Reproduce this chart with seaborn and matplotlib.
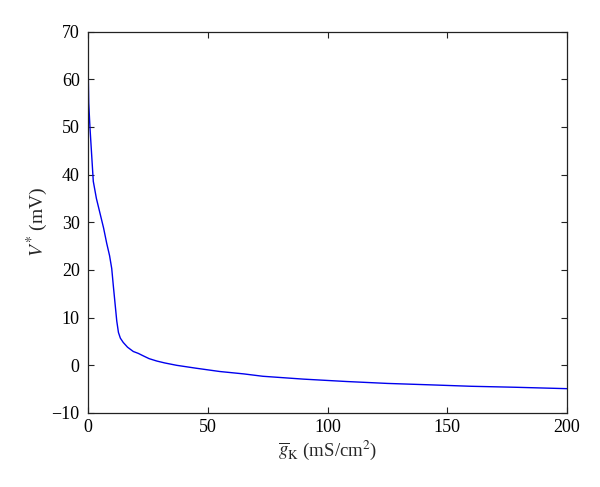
import numpy as np
import pandas as pd
import matplotlib
matplotlib.use("Agg")
import matplotlib.pyplot as plt
import seaborn as sns

# Values.
g_k = [0, 0.3, 0.8, 2.2, 3.5, 5.0, 6.5, 7.8, 9.0, 9.9, 10.6, 11.3, 12.0, 12.7,
       13.5, 14.7, 16.5, 18.9, 21, 23, 25.5, 28.7, 32, 37,
       45, 55, 65, 73, 90, 108, 125, 143, 160, 178, 200]
v_star = [64, 55, 50, 38.6, 35.0, 31.9, 28.8, 25.6, 23.0, 20.3, 16.5, 12.9, 9.3, 6.9,
          5.7, 4.8, 3.8, 2.9, 2.5, 2.0, 1.4, 0.9, 0.5, 0.0,
          -0.6, -1.3, -1.8, -2.3, -2.9, -3.4, -3.8, -4.1, -4.4, -4.6, -4.9]

x_ticks = [0, 50, 100, 150, 200]
y_ticks = [-10, 0, 10, 20, 30, 40, 50, 60, 70]

sns.set_style("ticks")
plt.rcParams['font.family'] = ['Liberation Serif', 'DejaVu Serif']
plt.rcParams['mathtext.fontset'] = 'stix'
plt.rcParams['xtick.direction'] = 'in'
plt.rcParams['ytick.direction'] = 'in'

df = pd.DataFrame({'g': g_k, 'v': v_star})

fig = plt.figure(figsize=(6, 4.87), dpi=100)
ax = fig.add_axes([0.1467, 0.152, 0.7983, 0.783])
sns.lineplot(data=df, x='g', y='v', color='#0000ee', linewidth=1.0, ax=ax)

ax.set_xlim(0, 200)
ax.set_ylim(-10, 70)
ax.set_xticks(x_ticks)
ax.set_yticks(y_ticks)
ax.tick_params(axis='both', labelsize=13, top=True, right=True, length=4,
               width=0.8, colors='#222222', labelcolor='black')
ax.tick_params(axis='y', pad=6)
ax.tick_params(axis='x', pad=4)
for s in ax.spines.values():
    s.set_linewidth(0.9)
    s.set_color('#222222')

ax.set_xlabel(r'$\overline{g}_{\mathrm{K}}$ (mS/cm$^2$)', fontsize=13.5, labelpad=2)
ax.set_ylabel(r'$V^{*}$ (mV)', fontsize=14, labelpad=1)

fig.savefig('out.png', dpi=100)
